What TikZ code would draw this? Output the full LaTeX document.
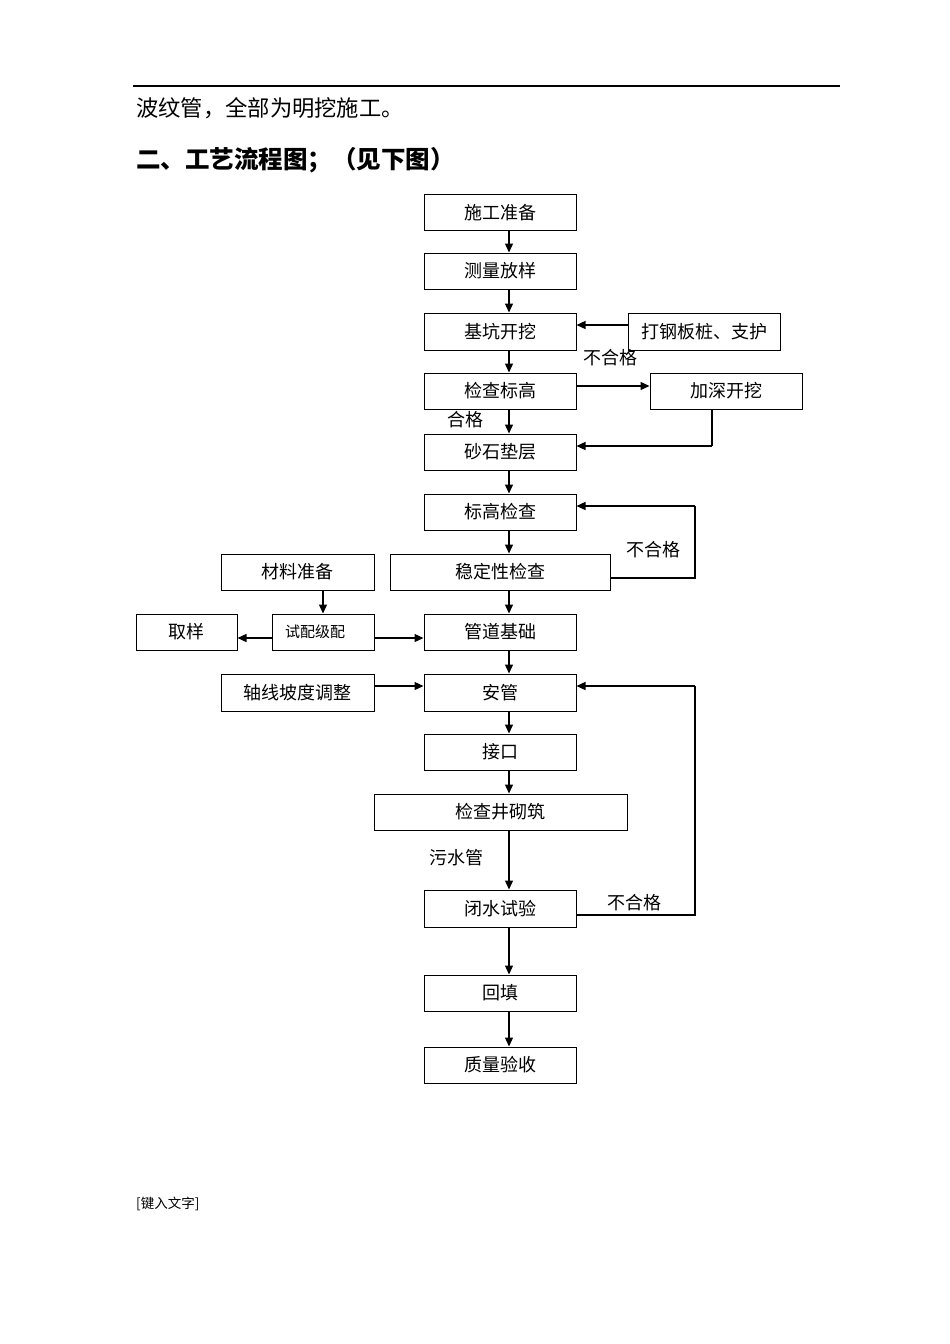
\documentclass[tikz,border=0pt]{standalone}
\usepackage{fontspec}
\setmainfont{Noto Sans CJK SC}
\usetikzlibrary{arrows.meta}
\begin{document}
\begin{tikzpicture}[x=1pt,y=-1pt,
  box/.style={draw, line width=1pt, inner sep=0pt, font=\fontsize{18}{20}\selectfont},
  lbl/.style={inner sep=0pt, font=\fontsize{18}{20}\selectfont},
  arr/.style={line width=1.3pt, -{Triangle[length=9pt,width=8pt]}},
  ln/.style={line width=1.3pt}]
\useasboundingbox (0,0) rectangle (950,1344);
\fill[white] (0,0) rectangle (950,1344);
% page header
\draw[line width=1.2pt] (133,86) -- (840,86);
\node[anchor=west, inner sep=0pt, font=\fontsize{22.3}{24}\selectfont] (t1) at (136,108) {波纹管，全部为明挖施工。};
\node[anchor=west, inner sep=0pt, font=\fontsize{24.5}{26}\selectfont\bfseries] (t2) at (136,160) {二、工艺流程图；（见下图）};
\node[anchor=west, inner sep=0pt, font=\fontsize{13.5}{15}\selectfont] (ft) at (136,1204) {[键入文字]};
% boxes
\node[box, minimum width=152pt, minimum height=36pt] (a) at (500,212.5) {施工准备};
\node[box, minimum width=152pt, minimum height=36pt] (b) at (500,271) {测量放样};
\node[box, minimum width=152pt, minimum height=37pt] (c) at (500,331.5) {基坑开挖};
\node[box, minimum width=152pt, minimum height=37pt] (c2) at (704,331.5) {打钢板桩、支护};
\node[box, minimum width=152pt, minimum height=36pt] (d) at (500,391) {检查标高};
\node[box, minimum width=152pt, minimum height=36pt] (d2) at (726,391) {加深开挖};
\node[box, minimum width=152pt, minimum height=36pt] (e) at (500,452) {砂石垫层};
\node[box, minimum width=152pt, minimum height=36pt] (f) at (500,512) {标高检查};
\node[box, minimum width=220pt, minimum height=36pt] (g) at (500,572) {稳定性检查};
\node[box, minimum width=153pt, minimum height=36pt] (m) at (297.5,572) {材料准备};
\node[box, minimum width=101pt, minimum height=36pt] (q) at (186.5,632) {取样};
\node[box, minimum width=102pt, minimum height=36pt] (s) at (323,632) {};
\node[inner sep=0pt, font=\fontsize{15}{17}\selectfont] (st) at (315,632) {试配级配};
\node[box, minimum width=152pt, minimum height=36pt] (h) at (500,632) {管道基础};
\node[box, minimum width=153pt, minimum height=37pt] (z) at (297.5,692.5) {轴线坡度调整};
\node[box, minimum width=152pt, minimum height=37pt] (i) at (500,692.5) {安管};
\node[box, minimum width=152pt, minimum height=36pt] (j) at (500,752) {接口};
\node[box, minimum width=253pt, minimum height=36pt] (k) at (500.5,812) {检查井砌筑};
\node[box, minimum width=152pt, minimum height=37pt] (l) at (500,908.5) {闭水试验};
\node[box, minimum width=152pt, minimum height=36pt] (n) at (500,993) {回填};
\node[box, minimum width=152pt, minimum height=36pt] (o) at (500,1065) {质量验收};
% main vertical arrows
\foreach \u/\v in {a/b, b/c, c/d, d/e, e/f, f/g, g/h, h/i, i/j, j/k, k/l, l/n, n/o}
  \draw[arr] (509,0 |- \u.south) -- (509,0 |- \v.north);
% side connectors
\draw[arr] (c2.west |- 0,325) -- (c.east |- 0,325);
\draw[arr] (d.east |- 0,386) -- (d2.west |- 0,386);
\coordinate (p1) at (712,446);
\draw[ln] (712,0 |- d2.south) -- (p1);
\draw[arr] (p1) -- (e.east |- p1);
\coordinate (p2) at (695,578);
\coordinate (p3) at (695,506);
\draw[ln] (g.east |- p2) -- (p2) -- (p3);
\draw[arr] (p3) -- (f.east |- p3);
\draw[arr] (323,0 |- m.south) -- (323,0 |- s.north);
\draw[arr] (s.west |- 0,638) -- (q.east |- 0,638);
\draw[arr] (s.east |- 0,638) -- (h.west |- 0,638);
\draw[arr] (z.east |- 0,686) -- (i.west |- 0,686);
\coordinate (p4) at (695,915);
\coordinate (p5) at (695,686);
\draw[ln] (l.east |- p4) -- (p4) -- (p5);
\draw[arr] (p5) -- (i.east |- p5);
% labels
\node[lbl] (L1) at (610,358) {不合格};
\node[lbl] (L2) at (465,420) {合格};
\node[lbl] (L3) at (653,550) {不合格};
\node[lbl] (L4) at (456,858) {污水管};
\node[lbl] (L5) at (634,903) {不合格};
\end{tikzpicture}
\end{document}
